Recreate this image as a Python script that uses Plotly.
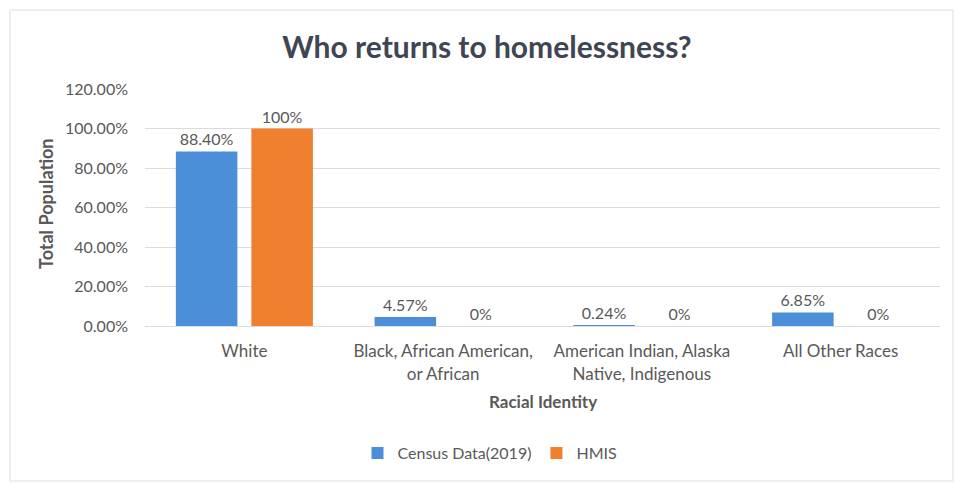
import plotly.graph_objects as go

categories = ["White", "Black, African American,<br>or African",
              "American Indian, Alaska<br>Native, Indigenous", "All Other Races"]
census = [0.884, 0.0457, 0.0024, 0.0685]
census_labels = ["88.40%", "4.57%", "0.24%", "6.85%"]
hmis = [1.0, 0.0, 0.0, 0.0]
hmis_labels = ["100%", "0%", "0%", "0%"]
y_ticks = [0, 0.2, 0.4, 0.6, 0.8, 1.0, 1.2]
y_tick_labels = ["0.00%", "20.00%", "40.00%", "60.00%", "80.00%", "100.00%", "120.00%"]

FONT = "Lato"
GRAY = "#595959"
L, R, T, B = 145, 14, 89, 157
PW, PH = 954 - L - R, 483 - T - B

fig = go.Figure()
fig.add_trace(go.Bar(x=categories, y=census, name="Census Data(2019)",
                     marker=dict(color="#4a8fd8", line=dict(width=0)),
                     text=census_labels, textposition="outside",
                     textfont=dict(family=FONT, size=16, color=GRAY), cliponaxis=False))
fig.add_trace(go.Bar(x=categories, y=hmis, name="HMIS",
                     marker=dict(color="#f07f2f", line=dict(width=0)),
                     text=hmis_labels, textposition="outside",
                     textfont=dict(family=FONT, size=16, color=GRAY), cliponaxis=False))

fig.update_layout(
    width=954, height=483,
    margin=dict(l=L, r=R, t=T, b=B),
    paper_bgcolor="white", plot_bgcolor="white",
    barmode="group", bargap=0.24, bargroupgap=0.185,
    font=dict(family=FONT, color=GRAY),
    title=dict(text="<b>Who returns to homelessness?</b>", x=(487 - L) / PW, xref="paper",
               xanchor="center", y=1 - 47 / 483, yanchor="middle",
               font=dict(family=FONT, size=30, color="#404553")),
    legend=dict(orientation="h", x=(490 - L) / PW, xanchor="center", yref="container",
                y=1 - 453 / 483, yanchor="middle",
                font=dict(family=FONT, size=16, color=GRAY),
                itemwidth=30, tracegroupgap=0),
    showlegend=True,
)
fig.update_yaxes(range=[0, 1.2], tickvals=y_ticks, ticktext=y_tick_labels,
                 showgrid=True, gridcolor="#dcdcdc", gridwidth=1, zeroline=False,
                 showline=False, ticks="", ticklabelstandoff=16,
                 tickfont=dict(family=FONT, size=16, color=GRAY))
fig.update_xaxes(showline=True, linecolor="#dcdcdc", linewidth=1, ticks="",
                 ticklabelstandoff=10,
                 tickfont=dict(family=FONT, size=17, color=GRAY))

fig.add_annotation(text="<b>Total Population</b>", xref="paper", yref="paper",
                   x=(46 - L) / PW, y=(326 - 204) / PH, textangle=-90, showarrow=False,
                   xanchor="center", yanchor="middle",
                   font=dict(family=FONT, size=18, color=GRAY))
fig.add_annotation(text="<b>Racial Identity</b>", xref="paper", yref="paper",
                   x=(543 - L) / PW, y=-(401 - 326) / PH, showarrow=False,
                   xanchor="center", yanchor="middle",
                   font=dict(family=FONT, size=17, color=GRAY))
fig.add_shape(type="rect", xref="paper", yref="paper",
              x0=(10 - L) / PW, x1=(953 - L) / PW,
              y0=-(481 - 326) / PH, y1=(326 - 10) / PH,
              line=dict(color="#efefef", width=2), layer="below")

fig.write_html("out.html")
